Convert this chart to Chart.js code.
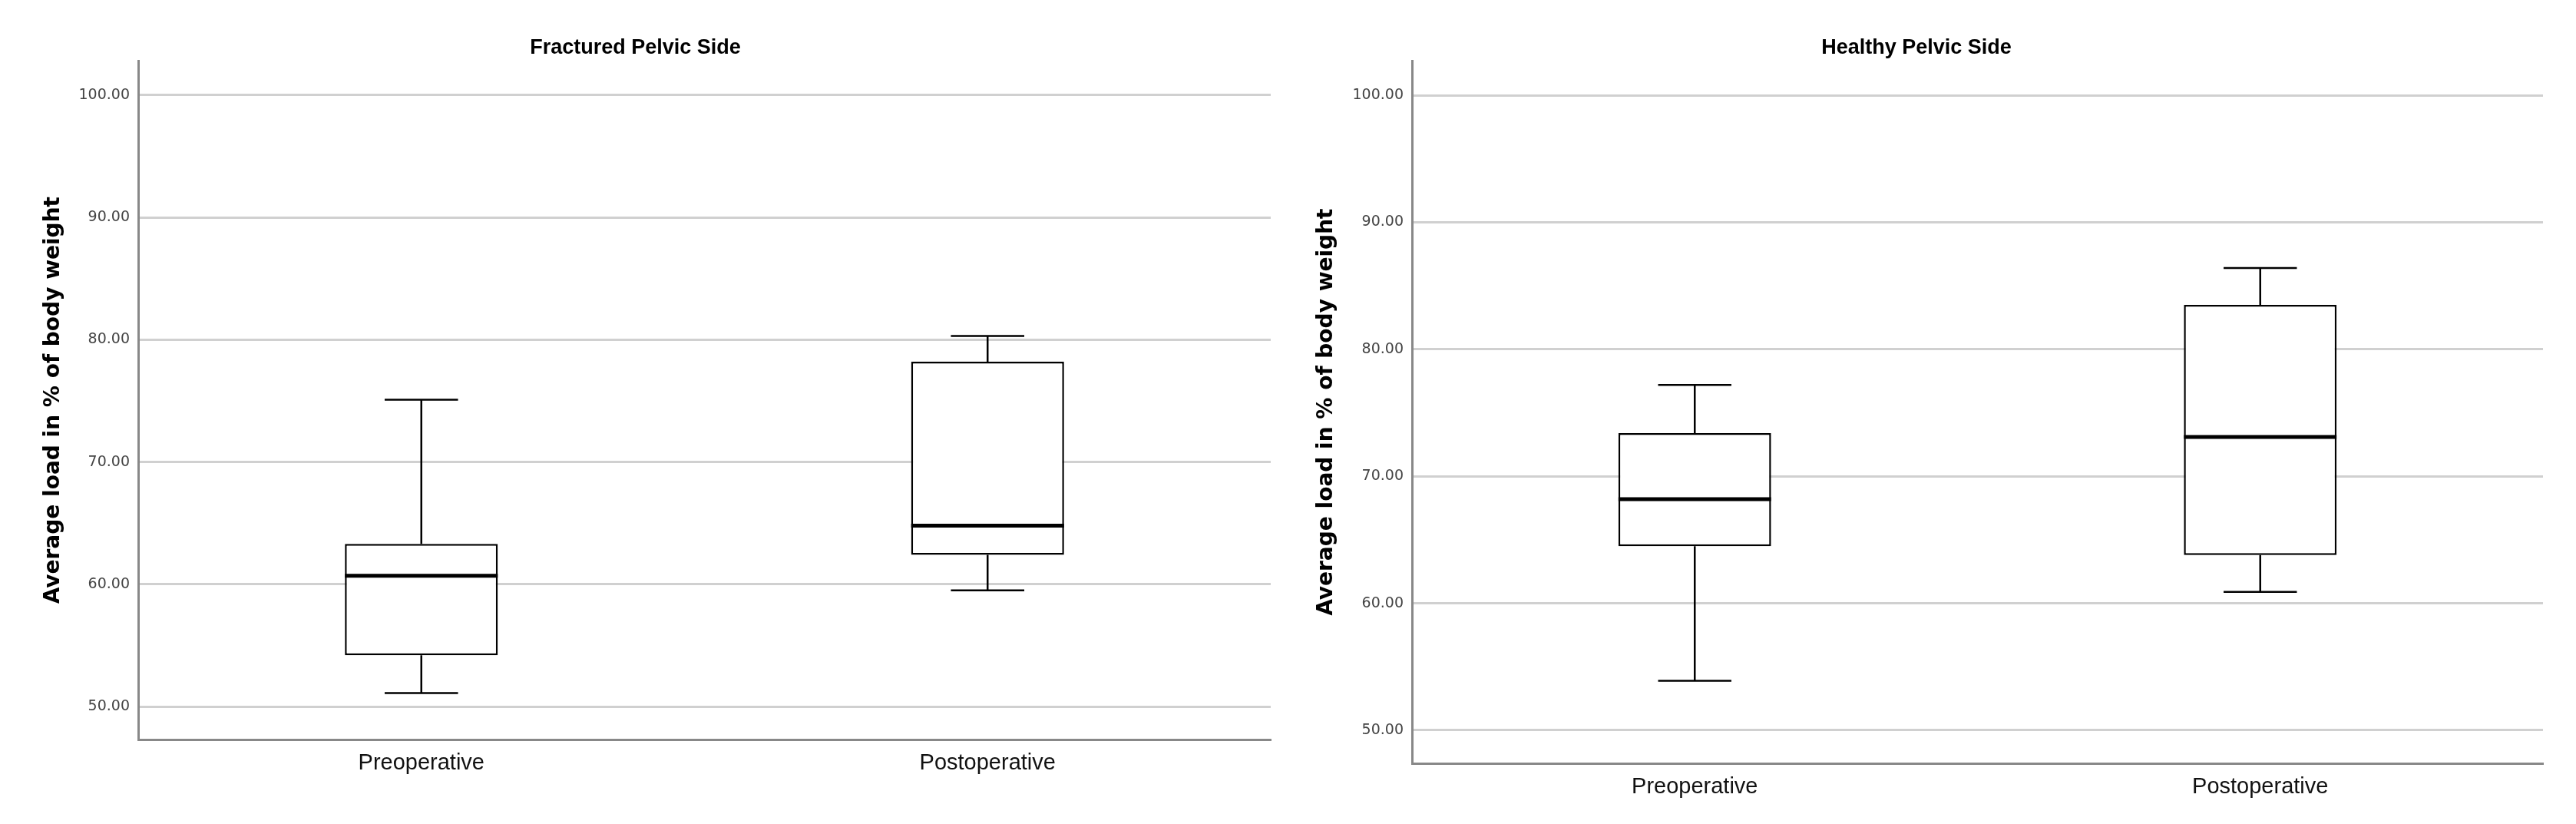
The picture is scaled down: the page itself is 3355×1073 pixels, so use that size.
<!DOCTYPE html>
<html><head><meta charset="utf-8">
<script src="https://cdn.jsdelivr.net/npm/chart.js@4/dist/chart.umd.min.js"></script>
<style>html,body{margin:0;padding:0;background:#fff;}
#a{position:absolute;left:0;top:0;width:1680px;height:1073px}
#b{position:absolute;left:1680px;top:0;width:1675px;height:1073px}</style>
</head><body>
<div id="a"><canvas id="c1"></canvas></div>
<div id="b"><canvas id="c2"></canvas></div>
<script>
const categories = ['Preoperative', 'Postoperative'];
const yTicks = [50, 60, 70, 80, 90, 100];
// Fractured pelvic side
const fracMin = [51.1, 59.5];
const fracQ1 = [54.2, 62.4];
const fracMedian = [60.7, 64.8];
const fracQ3 = [63.3, 78.2];
const fracMax = [75.1, 80.3];
// Healthy pelvic side
const healMin = [53.9, 60.9];
const healQ1 = [64.5, 63.8];
const healMedian = [68.2, 73.1];
const healQ3 = [73.4, 83.5];
const healMax = [77.2, 86.4];

const boxPlugin = {
  id: 'boxParts',
  afterDatasetsDraw(chart) {
    const st = chart.options.plugins.boxParts;
    const y = chart.scales.y, ctx = chart.ctx;
    const meta = chart.getDatasetMeta(0);
    meta.data.forEach((bar, i) => {
      const x = bar.x, w = bar.width, cw = w * 0.48;
      ctx.save();
      ctx.strokeStyle = '#000'; ctx.lineWidth = 2.5;
      const yMin = y.getPixelForValue(st.min[i]), yMax = y.getPixelForValue(st.max[i]);
      const yQ1 = y.getPixelForValue(st.q1[i]), yQ3 = y.getPixelForValue(st.q3[i]);
      ctx.beginPath();
      ctx.moveTo(x, yQ3); ctx.lineTo(x, yMax);
      ctx.moveTo(x - cw/2, yMax); ctx.lineTo(x + cw/2, yMax);
      ctx.moveTo(x, yQ1); ctx.lineTo(x, yMin);
      ctx.moveTo(x - cw/2, yMin); ctx.lineTo(x + cw/2, yMin);
      ctx.stroke();
      ctx.lineWidth = 5;
      const yMed = y.getPixelForValue(st.med[i]);
      ctx.beginPath(); ctx.moveTo(x - w/2, yMed); ctx.lineTo(x + w/2, yMed); ctx.stroke();
      ctx.restore();
    });
  }
};

function make(id, title, mn, q1, med, q3, mx, yW, rightPad, xH, ytPad, yMin, yMax) {
  new Chart(document.getElementById(id), {
    type: 'bar',
    data: { labels: categories, datasets: [{
      data: categories.map((c, i) => [q1[i], q3[i]]),
      backgroundColor: '#ffffff', borderColor: '#000', borderWidth: 2.5, borderSkipped: false,
      barPercentage: 0.27, categoryPercentage: 1
    }]},
    plugins: [boxPlugin],
    options: {
      responsive: true, maintainAspectRatio: false, animation: false,
      layout: { padding: { left: 0, right: rightPad, top: 0, bottom: 0 } },
      plugins: {
        legend: { display: false }, tooltip: { enabled: false },
        title: { display: true, text: title, color: '#000', font: { family: 'Liberation Sans', size: 27, weight: 'bold' }, padding: { top: 46, bottom: 1 } },
        boxParts: { min: mn, q1: q1, med: med, q3: q3, max: mx }
      },
      scales: {
        x: {
          grid: { display: false, drawTicks: false },
          border: { color: '#888', width: 3 },
          ticks: { color: '#111', padding: 14, font: { family: 'Liberation Sans', size: 29 } },
          afterFit(s) { s.height = xH; }
        },
        y: {
          min: yMin, max: yMax,
          afterBuildTicks(s) { s.ticks = yTicks.map(v => ({ value: v })); },
          grid: { color: '#d0d0d0', lineWidth: 3, drawTicks: false },
          border: { color: '#888', width: 3 },
          ticks: { color: '#444', padding: 11, font: { family: 'DejaVu Sans', size: 19 }, callback: v => Number(v).toFixed(2) },
          title: { display: true, text: 'Average load in % of body weight', color: '#000', font: { family: 'DejaVu Sans', size: 28, weight: 'bold' }, padding: { top: ytPad, bottom: 0 } },
          afterFit(s) { s.width = yW; }
        }
      }
    }
  });
}
make('c1', 'Fractured Pelvic Side', fracMin, fracQ1, fracMedian, fracQ3, fracMax, 180, 25, 110, 53, 47.3, 102.8);
make('c2', 'Healthy Pelvic Side', healMin, healQ1, healMedian, healQ3, healMax, 159, 43, 79, 31, 47.4, 102.7);
</script>
</body></html>
